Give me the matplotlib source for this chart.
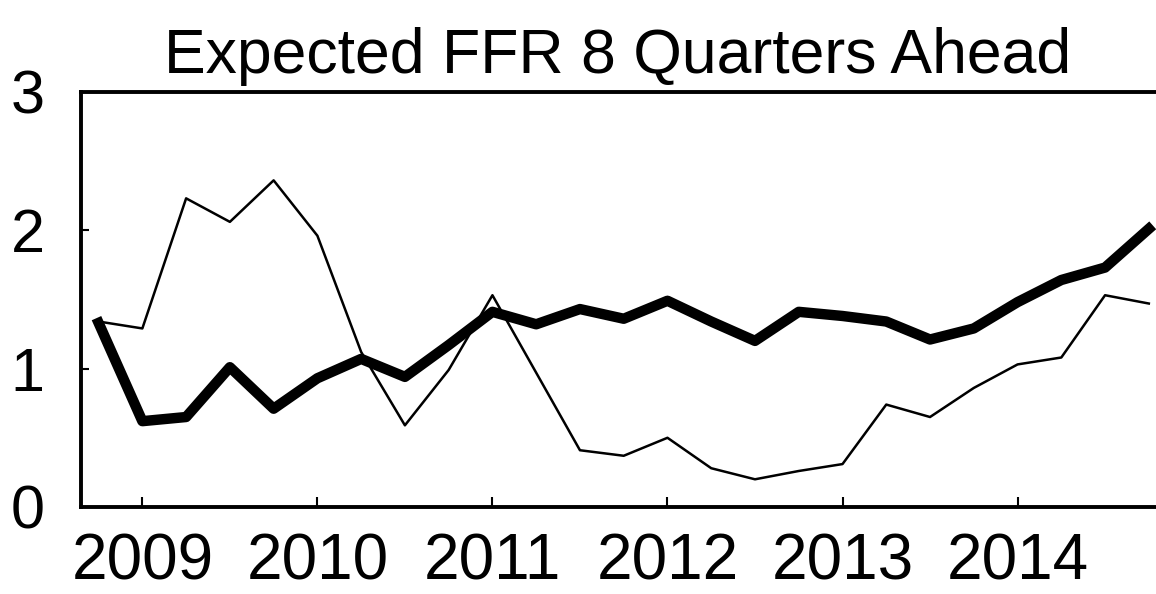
import matplotlib.pyplot as plt
import numpy as np

plt.rcParams['font.family'] = ['Liberation Sans', 'DejaVu Sans']

# quarterly dates, 2008Q4 .. 2014Q4
quarters = np.arange(2008.75, 2014.76, 0.25)

# thick line
ffr_thick = [1.33, 0.62, 0.65, 1.01, 0.71, 0.93, 1.07, 0.94, 1.17, 1.41,
             1.32, 1.43, 1.36, 1.49, 1.34, 1.20, 1.41, 1.38, 1.34, 1.21,
             1.29, 1.48, 1.64, 1.73, 2.01]

# thin line
ffr_thin = [1.34, 1.29, 2.23, 2.06, 2.36, 1.96, 1.12, 0.59, 0.99, 1.53,
            0.97, 0.41, 0.37, 0.50, 0.28, 0.20, 0.26, 0.31, 0.74, 0.65,
            0.86, 1.03, 1.08, 1.53, 1.47]

year_ticks = [2009, 2010, 2011, 2012, 2013, 2014]
year_labels = ["2009", "2010", "2011", "2012", "2013", "2014"]

fig = plt.figure(figsize=(11.56, 5.94), dpi=100)
ax = fig.add_axes([0.070, 0.1465, 0.930, 0.699])

ax.plot(quarters, ffr_thin, color="black", linewidth=1.8)
ax.plot(quarters, ffr_thick, color="black", linewidth=7.5)

ax.set_xlim(2008.649, 2014.791)
ax.set_ylim(0, 3)

ax.set_xticks(year_ticks)
ax.set_xticklabels(year_labels)
ax.set_yticks([0, 1, 2, 3])
ax.set_yticklabels(["0", "1", "2", "3"])

ax.tick_params(axis="x", direction="in", length=7, width=1.5, labelsize=46, pad=18.5)
ax.tick_params(axis="y", direction="in", length=6, width=1.5, labelsize=44, pad=26)

for s in ["left", "bottom", "top"]:
    ax.spines[s].set_linewidth(2.8)
ax.spines["right"].set_visible(False)

fig.text(618 / 1156, 0.877, "Expected FFR 8 Quarters Ahead",
         ha="center", va="baseline", fontsize=45)

plt.savefig("out.png", dpi=100)
